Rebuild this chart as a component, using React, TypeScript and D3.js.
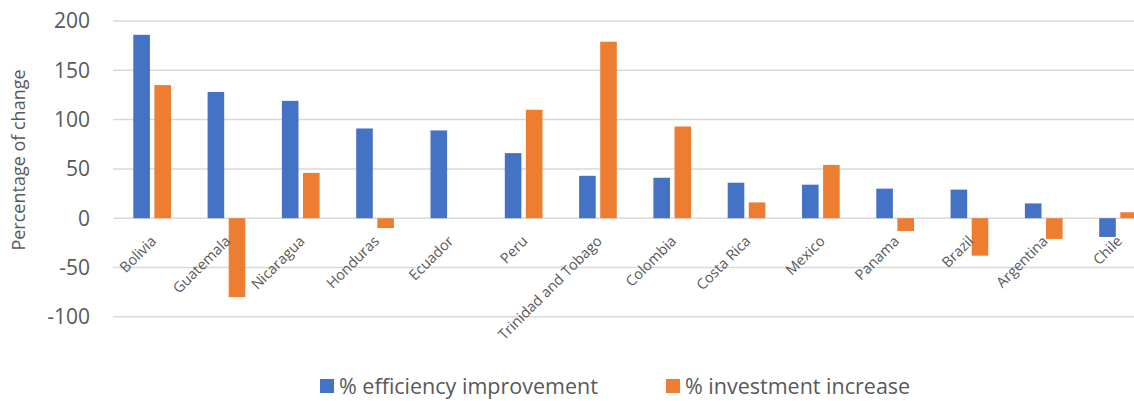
import React from "react";
import * as d3 from "d3";

const countries = [
  "Bolivia", "Guatemala", "Nicaragua", "Honduras", "Ecuador", "Peru",
  "Trinidad and Tobago", "Colombia", "Costa Rica", "Mexico", "Panama",
  "Brazil", "Argentina", "Chile",
];
const efficiency = [186, 128, 119, 91, 89, 66, 43, 41, 36, 34, 30, 29, 15, -19];
const investment = [135, -80, 46, -10, 0, 110, 179, 93, 16, 54, -13, -38, -21, 6];
const yTicks = [-100, -50, 0, 50, 100, 150, 200];
const seriesNames = ["% efficiency improvement", "% investment increase"];
const colors = ["#4472C4", "#ED7D31"];

const W = 1134;
const H = 401;
const FONT = "'Open Sans', 'Noto Sans', sans-serif";

export default function App() {
  const left = 115;
  const step = 74.3;
  const x = d3
    .scaleBand<string>()
    .domain(countries)
    .range([left, left + step * countries.length])
    .paddingInner(0)
    .paddingOuter(0);
  const y = d3.scaleLinear().domain([-100, 200]).range([316.8, 21]);

  const barW = 16.6;
  const innerGap = 4.5;
  const groupW = barW * 2 + innerGap;

  const series = [efficiency, investment];

  const legend = [
    { sx: 320, tx: 339 },
    { sx: 666, tx: 685 },
  ];

  return (
    <svg
      width={W}
      height={H}
      style={{ position: "absolute", left: 0, top: 0, background: "#fff" }}
      fontFamily={FONT}
    >
      <rect width={W} height={H} fill="#fff" />
      {yTicks.map((t) => (
        <g key={t}>
          <line
            x1={left - 2}
            x2={W}
            y1={y(t)}
            y2={y(t)}
            stroke="#d9d9d9"
            strokeWidth={1.5}
          />
          <text
            x={90}
            y={y(t)}
            dy="0.35em"
            textAnchor="end"
            fontSize={21}
            fill="#595959"
          >
            {t}
          </text>
        </g>
      ))}
      <text
        transform={`translate(25, 160) rotate(-90)`}
        textAnchor="middle"
        fontSize={18}
        fill="#595959"
      >
        Percentage of change
      </text>
      {series.map((vals, si) =>
        vals.map((v, i) => {
          const cx = (x(countries[i]) as number) + x.bandwidth() / 2;
          const bx = cx - groupW / 2 + si * (barW + innerGap);
          if (v === 0) return null;
          return (
            <rect
              key={`${si}-${i}`}
              x={bx}
              y={Math.min(y(v), y(0))}
              width={barW}
              height={Math.abs(y(v) - y(0))}
              fill={colors[si]}
            />
          );
        })
      )}
      {countries.map((c) => {
        const cx = (x(c) as number) + x.bandwidth() / 2;
        return (
          <text
            key={c}
            transform={`translate(${cx + 5}, 242) rotate(-45)`}
            textAnchor="end"
            fontSize={14.5}
            fill="#595959"
          >
            {c}
          </text>
        );
      })}
      {seriesNames.map((name, i) => (
        <g key={name}>
          <rect x={legend[i].sx} y={379} width={14} height={14} fill={colors[i]} />
          <text x={legend[i].tx} y={394} fontSize={21.5} fill="#595959">
            {name}
          </text>
        </g>
      ))}
    </svg>
  );
}
